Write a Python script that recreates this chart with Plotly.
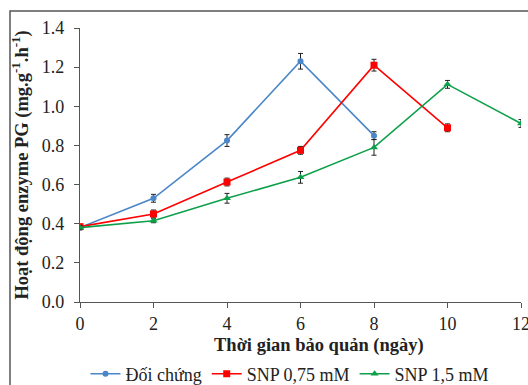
import plotly.graph_objects as go

days_ctrl = [0, 2, 4, 6, 8]
ctrl = [0.38, 0.53, 0.825, 1.23, 0.85]
ctrl_err = [0.01, 0.02, 0.03, 0.04, 0.02]

days_snp075 = [0, 2, 4, 6, 8, 10]
snp075 = [0.385, 0.45, 0.613, 0.775, 1.21, 0.89]
snp075_err = [0.01, 0.02, 0.02, 0.02, 0.03, 0.02]

days_snp15 = [0, 2, 4, 6, 8, 10, 12]
snp15 = [0.38, 0.415, 0.53, 0.637, 0.79, 1.112, 0.912]
snp15_err = [0.01, 0.01, 0.025, 0.03, 0.04, 0.02, 0.02]

names = ["Đối chứng", "SNP 0,75 mM", "SNP 1,5 mM"]
colors = ["#4A86C8", "#FF0000", "#0DA04A"]
symbols = ["circle", "square", "triangle-up"]
x_title = "<b>Thời gian bảo quản (ngày)</b>"
y_title = "<b>Hoạt động enzyme PG (mg.g<sup>-1</sup>.h<sup>-1</sup>)</b>"

FONT = "Liberation Serif, Times New Roman, serif"

fig = go.Figure()
for x, y, e, n, c, s, sz in [
    (days_ctrl, ctrl, ctrl_err, names[0], colors[0], symbols[0], 6),
    (days_snp075, snp075, snp075_err, names[1], colors[1], symbols[1], 7),
    (days_snp15, snp15, snp15_err, names[2], colors[2], symbols[2], 7),
]:
    fig.add_trace(go.Scatter(
        x=x, y=y, name=n, mode="lines+markers",
        line=dict(color=c, width=1.6),
        marker=dict(color=c, symbol=s, size=sz),
        error_y=dict(type="data", array=e, visible=True, color="#222222", thickness=1, width=2.5),
    ))

fig.update_layout(
    width=528, height=385,
    margin=dict(l=80, r=7, t=28, b=83, autoexpand=False),
    paper_bgcolor="white", plot_bgcolor="white",
    font=dict(family=FONT, size=18, color="#222222"),
    showlegend=True,
    legend=dict(orientation="h", x=0.475, xanchor="center", y=1 - 374 / 385, yanchor="middle",
                yref="container", font=dict(size=18), itemwidth=30, tracegroupgap=0,
                bgcolor="rgba(0,0,0,0)"),
    xaxis=dict(range=[0, 12], tickvals=[0, 2, 4, 6, 8, 10, 12], showgrid=False, zeroline=False,
               showline=True, linecolor="#555555", linewidth=1.2, ticks="outside", ticklen=5,
               tickcolor="#555555", tickfont=dict(size=18), automargin=False,
               ticklabeloverflow="allow"),
    yaxis=dict(range=[0, 1.4], tickvals=[0, 0.2, 0.4, 0.6, 0.8, 1.0, 1.2, 1.4], tickformat=".1f",
               showgrid=False, zeroline=False, automargin=False,
               showline=True, linecolor="#555555", linewidth=1.2, ticks="outside", ticklen=5,
               tickcolor="#555555", tickfont=dict(size=18), ticklabelstandoff=6,
               title=dict(text=y_title, font=dict(size=18.5), standoff=8)),
    annotations=[dict(text=x_title, xref="paper", yref="paper", x=(319 - 80) / 441,
                      y=(302 - 345) / 274, xanchor="center", yanchor="middle",
                      showarrow=False, font=dict(size=18.5))],
    shapes=[dict(type="rect", xref="paper", yref="paper",
                 x0=(10 - 80) / 441, x1=1.2, y0=-0.6, y1=(302 - 11) / 274,
                 line=dict(color="#555555", width=1.5), layer="below")],
)

fig.write_html("out.html")
